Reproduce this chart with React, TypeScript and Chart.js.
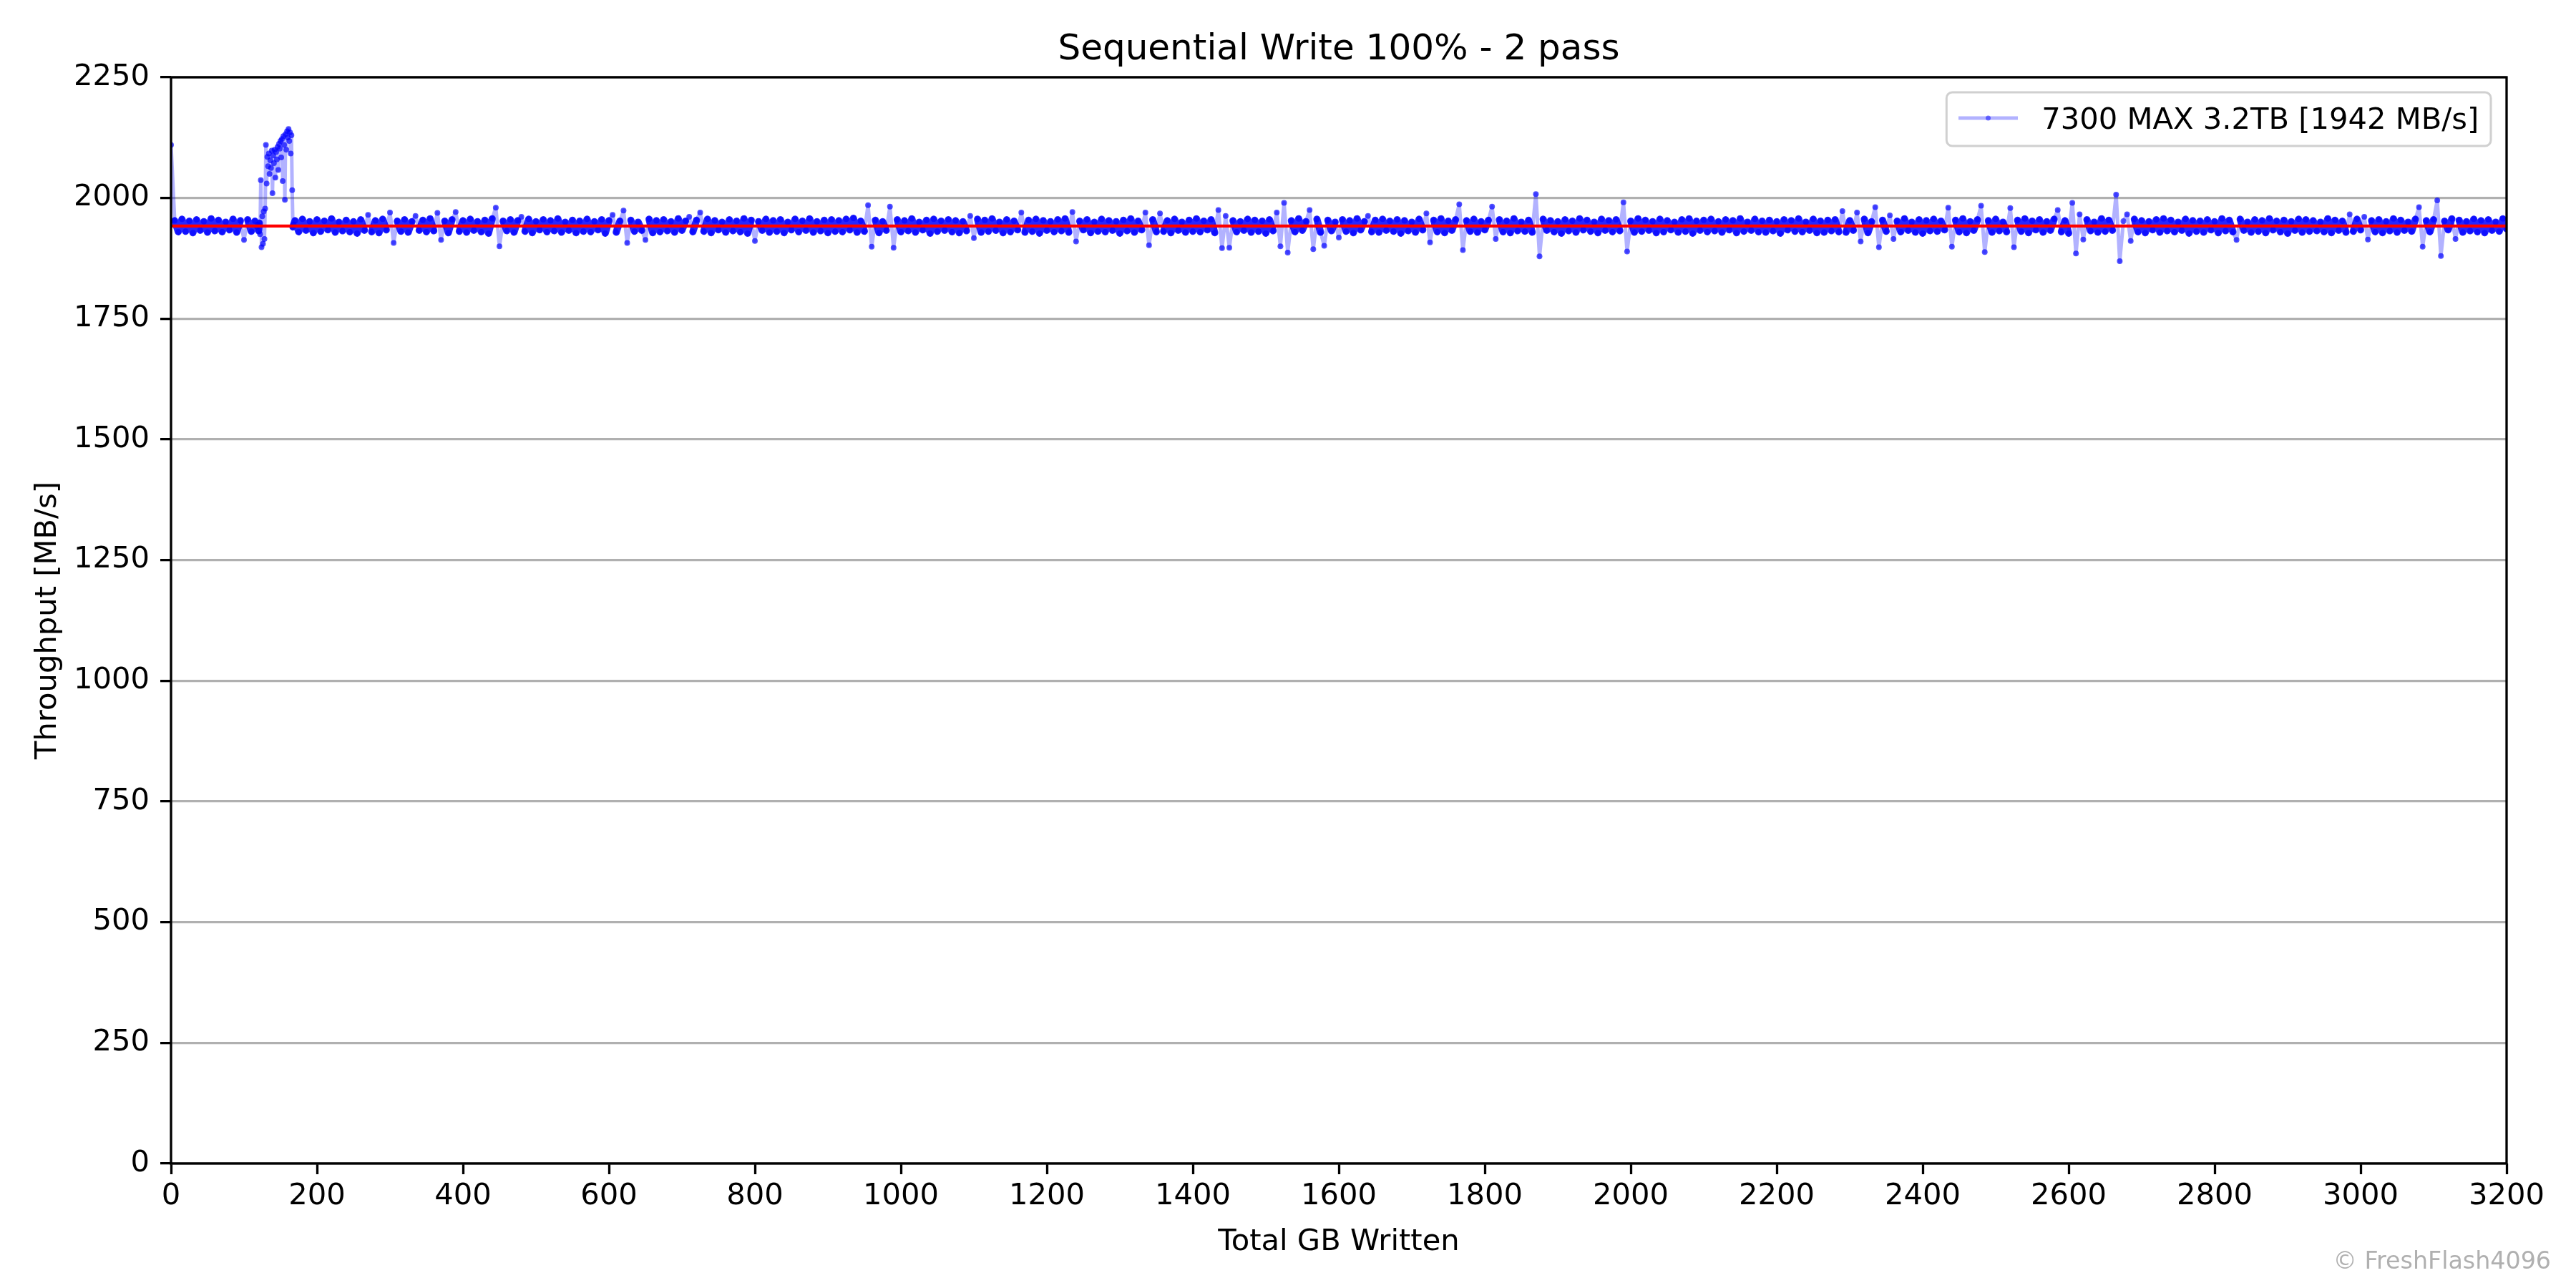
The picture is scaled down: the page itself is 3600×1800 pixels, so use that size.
import React, { useEffect, useRef } from "react";
import { Chart, registerables } from "chart.js";

Chart.register(...registerables);

const TITLE = "Sequential Write 100% - 2 pass";
const X_TITLE = "Total GB Written";
const Y_TITLE = "Throughput [MB/s]";
const WATERMARK = "© FreshFlash4096";
const AVG_THROUGHPUT = 1942;
const SERIES_NAME = `7300 MAX 3.2TB [${AVG_THROUGHPUT} MB/s]`;

const X_MIN = 0;
const X_MAX = 3200;
const X_STEP = 200;
const Y_MIN = 0;
const Y_MAX = 2250;
const Y_STEP = 250;

// GB 0..115, every 5 GB
const seg1Start = 0;
const seg1Step = 5;
const seg1 = [2110, 1953, 1930, 1956, 1931, 1952, 1928, 1955, 1933, 1951, 1929, 1957, 1932, 1954, 1930, 1950, 1934, 1956, 1929, 1953, 1913, 1955, 1931, 1952];

// GB 118..168, every 1 GB (burst region)
const spikeStart = 118;
const spikeStep = 1;
const spike = [
  1940, 1945, 1932, 1948, 1925, 2037, 1898, 1962, 1905, 1972,
  1915, 1978, 2110, 2030, 2085, 2066, 2092, 2050, 2078, 2062,
  2098, 2010, 2088, 2072, 2100, 2042, 2095, 2080, 2106, 2058,
  2112, 2102, 2118, 2084, 2122, 2035, 2128, 2110, 1996, 2132,
  2100, 2138, 2125, 2143, 2118, 2136, 2092, 2130, 2016, 1940,
  1945,
];

// GB 170..3200, every 5 GB
const seg2Start = 170;
const seg2Step = 5;
const seg2 = [
  1953, 1930, 1956, 1933, 1951, 1928, 1955, 1931, 1952, 1934,
  1957, 1929, 1950, 1932, 1954, 1930, 1951, 1927, 1955, 1933,
  1965, 1930, 1953, 1928, 1956, 1934, 1970, 1907, 1952, 1931,
  1955, 1929, 1951, 1963, 1933, 1954, 1930, 1957, 1932, 1969,
  1913, 1952, 1928, 1955, 1971, 1931, 1953, 1929, 1956, 1933,
  1951, 1930, 1954, 1927, 1957, 1980, 1900, 1952, 1932, 1955,
  1929, 1953, 1961, 1931, 1956, 1928, 1951, 1934, 1955, 1930,
  1953, 1932, 1957, 1929, 1950, 1933, 1954, 1928, 1952, 1931,
  1956, 1930, 1951, 1934, 1955, 1927, 1953, 1965, 1929, 1952,
  1974, 1907, 1954, 1931, 1950, 1933, 1913, 1956, 1928, 1953,
  1930, 1955, 1932, 1951, 1929, 1957, 1933, 1952, 1961, 1930,
  1954, 1970, 1931, 1956, 1928, 1953, 1934, 1950, 1929, 1955,
  1932, 1952, 1930, 1957, 1927, 1954, 1911, 1951, 1933, 1956,
  1929, 1953, 1931, 1955, 1928, 1950, 1934, 1956, 1930, 1952,
  1933, 1957, 1929, 1951, 1932, 1954, 1928, 1955, 1931, 1953,
  1930, 1956, 1934, 1958, 1929, 1952, 1931, 1985, 1899, 1954,
  1928, 1951, 1933, 1982, 1897, 1955, 1930, 1953, 1932, 1957,
  1929, 1950, 1934, 1954, 1927, 1956, 1931, 1952, 1933, 1955,
  1930, 1953, 1928, 1951, 1932, 1963, 1917, 1956, 1929, 1954,
  1931, 1957, 1933, 1950, 1928, 1955, 1930, 1952, 1934, 1970,
  1929, 1954, 1931, 1956, 1927, 1953, 1933, 1951, 1930, 1955,
  1932, 1957, 1929, 1971, 1910, 1952, 1934, 1955, 1928, 1950,
  1931, 1956, 1930, 1953, 1933, 1951, 1927, 1954, 1932, 1957,
  1929, 1952, 1934, 1970, 1902, 1955, 1930, 1968, 1931, 1953,
  1928, 1956, 1933, 1950, 1929, 1954, 1931, 1957, 1930, 1952,
  1934, 1955, 1928, 1975, 1896, 1963, 1897, 1953, 1930, 1951,
  1933, 1956, 1929, 1954, 1931, 1952, 1927, 1955, 1932, 1970,
  1900, 1990, 1887, 1953, 1930, 1957, 1933, 1951, 1975, 1894,
  1956, 1929, 1901, 1954, 1932, 1950, 1918, 1955, 1931, 1953,
  1928, 1957, 1934, 1951, 1963, 1930, 1954, 1929, 1956, 1933,
  1952, 1931, 1955, 1927, 1953, 1932, 1950, 1929, 1956, 1934,
  1968, 1908, 1954, 1930, 1957, 1928, 1952, 1933, 1955, 1987,
  1892, 1953, 1931, 1956, 1929, 1951, 1934, 1954, 1982, 1915,
  1955, 1930, 1952, 1928, 1957, 1932, 1950, 1931, 1954, 1929,
  2008, 1879, 1956, 1933, 1953, 1930, 1951, 1927, 1955, 1932,
  1952, 1929, 1957, 1934, 1954, 1931, 1950, 1928, 1956, 1933,
  1953, 1930, 1955, 1932, 1991, 1889, 1952, 1929, 1957, 1931,
  1954, 1933, 1951, 1928, 1956, 1930, 1953, 1934, 1950, 1929,
  1955, 1931, 1957, 1927, 1952, 1933, 1954, 1930, 1956, 1932,
  1951, 1929, 1955, 1934, 1953, 1928, 1957, 1931, 1950, 1933,
  1956, 1930, 1952, 1929, 1954, 1932, 1951, 1927, 1955, 1934,
  1953, 1931, 1957, 1930, 1950, 1933, 1956, 1928, 1952, 1929,
  1954, 1932, 1955, 1930, 1973, 1929, 1953, 1933, 1970, 1910,
  1956, 1928, 1951, 1981, 1898, 1954, 1931, 1964, 1915, 1952,
  1930, 1957, 1933, 1950, 1929, 1955, 1927, 1953, 1932, 1956,
  1931, 1952, 1934, 1980, 1899, 1954, 1930, 1957, 1928, 1951,
  1933, 1955, 1984, 1888, 1953, 1929, 1956, 1932, 1950, 1930,
  1979, 1898, 1954, 1931, 1957, 1928, 1952, 1934, 1955, 1929,
  1951, 1933, 1956, 1975, 1930, 1953, 1927, 1990, 1885, 1966,
  1914, 1955, 1932, 1950, 1929, 1957, 1931, 1954, 1933, 2007,
  1869, 1952, 1966, 1911, 1956, 1930, 1953, 1928, 1951, 1934,
  1955, 1929, 1957, 1932, 1954, 1930, 1950, 1933, 1956, 1927,
  1953, 1931, 1952, 1929, 1955, 1934, 1951, 1928, 1957, 1932,
  1954, 1930, 1913, 1956, 1933, 1950, 1929, 1955, 1931, 1953,
  1928, 1957, 1934, 1952, 1930, 1954, 1927, 1951, 1933, 1956,
  1929, 1955, 1931, 1953, 1932, 1950, 1930, 1957, 1928, 1954,
  1933, 1952, 1929, 1966, 1931, 1956, 1934, 1961, 1914, 1953,
  1930, 1955, 1928, 1951, 1932, 1957, 1929, 1954, 1933, 1950,
  1931, 1956, 1981, 1899, 1953, 1930, 1955, 1995, 1880, 1952,
  1934, 1957, 1915, 1954, 1929, 1951, 1932, 1956, 1930, 1953,
  1928, 1955, 1933, 1950, 1931, 1957, 1936,
];

const FONT = "'DejaVu Sans', 'Liberation Sans', sans-serif";
const TICK_PX = 41.67;
// samples within this distance of the mean form the dense core band
const BAND_HALF = 16;

function toPoints(start: number, step: number, vals: number[]) {
  return vals.map((v, i) => ({ x: start + i * step, y: v }));
}

const inBand = (y: number) => Math.abs(y - AVG_THROUGHPUT) <= BAND_HALF;

const decorPlugin = {
  id: "decor",
  afterDraw(chart: any) {
    const { ctx, chartArea: a } = chart;
    ctx.save();
    ctx.strokeStyle = "#000";
    ctx.lineWidth = 3.3;
    ctx.strokeRect(a.left, a.top, a.right - a.left, a.bottom - a.top);

    const cx = (a.left + a.right) / 2;
    ctx.fillStyle = "#000";
    ctx.textAlign = "center";
    ctx.textBaseline = "alphabetic";
    ctx.font = `50px ${FONT}`;
    ctx.fillText(TITLE, cx, a.top - 25);

    ctx.font = `${TICK_PX}px ${FONT}`;
    ctx.fillText(X_TITLE, cx, 1747);

    ctx.save();
    ctx.translate(78, (a.top + a.bottom) / 2);
    ctx.rotate(-Math.PI / 2);
    ctx.fillText(Y_TITLE, 0, 0);
    ctx.restore();

    ctx.font = `${TICK_PX}px ${FONT}`;
    const tw = ctx.measureText(SERIES_NAME).width;
    const pad = 16.7;
    const handleLen = 83;
    const handlePad = 33.3;
    const boxW = pad + handleLen + handlePad + tw + pad;
    const boxH = 75;
    const boxR = a.right - 22;
    const boxL = boxR - boxW;
    const boxT = a.top + 21;
    ctx.beginPath();
    ctx.roundRect(boxL, boxT, boxW, boxH, 8);
    ctx.fillStyle = "rgba(255,255,255,0.8)";
    ctx.fill();
    ctx.strokeStyle = "#d0d0d0";
    ctx.lineWidth = 3;
    ctx.stroke();

    const hy = boxT + 36;
    ctx.beginPath();
    ctx.moveTo(boxL + pad, hy);
    ctx.lineTo(boxL + pad + handleLen, hy);
    ctx.strokeStyle = "rgba(0,0,255,0.3)";
    ctx.lineWidth = 5;
    ctx.stroke();
    ctx.beginPath();
    ctx.arc(boxL + pad + handleLen / 2, hy, 3.5, 0, Math.PI * 2);
    ctx.fillStyle = "rgba(0,0,255,0.5)";
    ctx.fill();

    ctx.fillStyle = "#000";
    ctx.textAlign = "left";
    ctx.fillText(SERIES_NAME, boxL + pad + handleLen + handlePad, boxT + 51);

    ctx.font = `33.3px ${FONT}`;
    ctx.fillStyle = "#b0b0b0";
    ctx.textAlign = "right";
    ctx.fillText(WATERMARK, 3565, 1773);
    ctx.restore();
  },
};

export default function App() {
  const ref = useRef<HTMLCanvasElement | null>(null);

  useEffect(() => {
    if (!ref.current) return;
    const seriesData = [
      ...toPoints(seg1Start, seg1Step, seg1),
      ...toPoints(spikeStart, spikeStep, spike),
      ...toPoints(seg2Start, seg2Step, seg2),
    ];
    const avgData = [
      { x: X_MIN, y: AVG_THROUGHPUT },
      { x: X_MAX, y: AVG_THROUGHPUT },
    ];
    const chart = new Chart(ref.current, {
      type: "line",
      data: {
        datasets: [
          {
            label: "average",
            data: avgData,
            borderColor: "#ff0000",
            borderWidth: 4.2,
            pointRadius: 0,
            order: 0,
          },
          {
            label: SERIES_NAME,
            data: seriesData,
            borderColor: "rgba(0,0,255,0.3)",
            borderWidth: 5,
            borderJoinStyle: "round",
            borderCapStyle: "round",
            segment: {
              borderColor: (c: any) =>
                inBand(c.p0.parsed.y) && inBand(c.p1.parsed.y) ? "rgba(0,0,255,0.85)" : "rgba(0,0,255,0.3)",
              borderWidth: (c: any) => (inBand(c.p0.parsed.y) && inBand(c.p1.parsed.y) ? 10 : 5),
            },
            pointRadius: 4,
            pointBorderWidth: 0,
            pointBackgroundColor: (c: any) => {
              const y = c.parsed ? c.parsed.y : AVG_THROUGHPUT;
              return inBand(y) ? "rgba(0,0,255,0.6)" : "rgba(0,0,255,0.68)";
            },
            tension: 0,
            order: 1,
          },
        ],
      },
      options: {
        responsive: false,
        devicePixelRatio: 1,
        animation: false,
        events: [],
        layout: { padding: { top: 108, right: 97, left: 0, bottom: 0 } },
        plugins: {
          legend: { display: false },
          title: { display: false },
          tooltip: { enabled: false },
        },
        scales: {
          x: {
            type: "linear",
            min: X_MIN,
            max: X_MAX,
            afterFit: (s: any) => {
              s.height = 174;
            },
            ticks: {
              stepSize: X_STEP,
              autoSkip: false,
              maxRotation: 0,
              padding: 6,
              color: "#000",
              font: { family: FONT, size: TICK_PX },
              callback: (v: any) => String(v),
            },
            grid: {
              drawOnChartArea: false,
              drawTicks: true,
              tickLength: 15,
              tickWidth: 3.3,
              tickColor: "#000",
            },
            border: { display: false },
          },
          y: {
            type: "linear",
            min: Y_MIN,
            max: Y_MAX,
            afterFit: (s: any) => {
              s.width = 239;
            },
            ticks: {
              stepSize: Y_STEP,
              padding: 15,
              color: "#000",
              font: { family: FONT, size: TICK_PX },
              callback: (v: any) => String(v),
            },
            grid: {
              color: "#b0b0b0",
              lineWidth: 3.3,
              drawTicks: true,
              tickLength: 15,
              tickWidth: 3.3,
              tickColor: "#000",
            },
            border: { display: false },
          },
        },
      },
      plugins: [decorPlugin],
    });
    return () => chart.destroy();
  }, []);

  return (
    <div style={{ position: "absolute", left: 0, top: 0, width: 3600, height: 1800, background: "#fff" }}>
      <canvas ref={ref} width={3600} height={1800} style={{ display: "block", width: 3600, height: 1800 }} />
    </div>
  );
}
